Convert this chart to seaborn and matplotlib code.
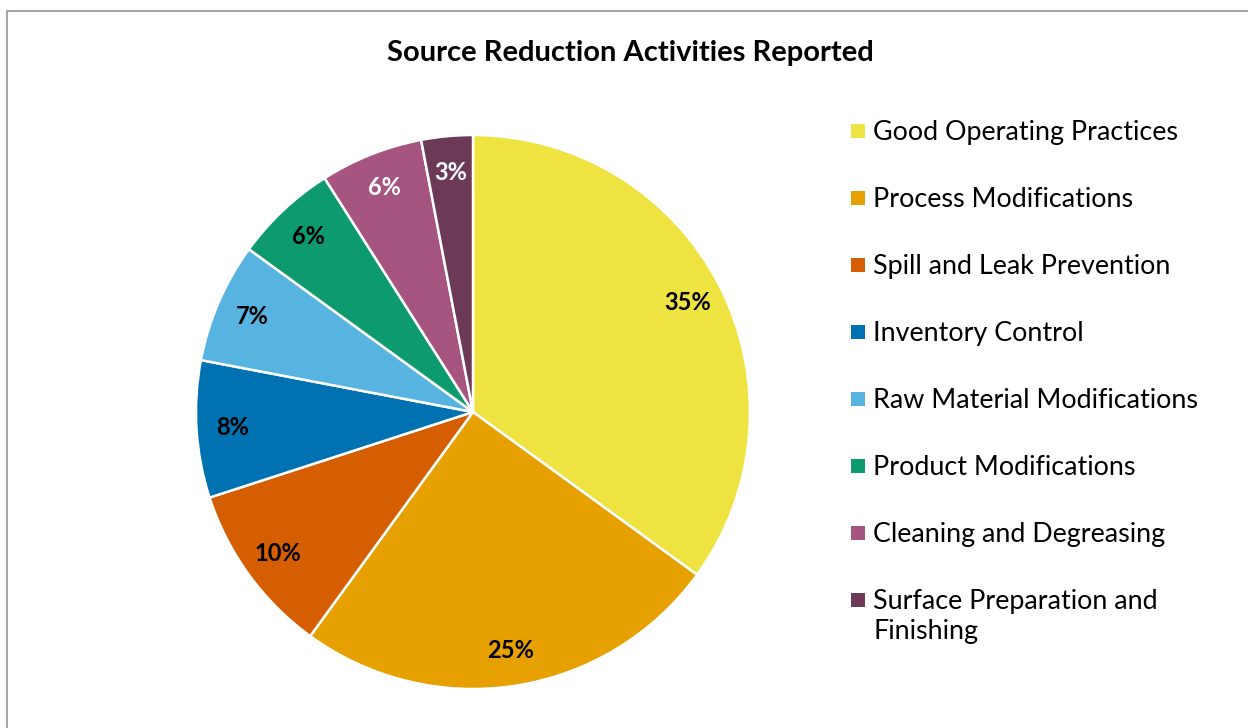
import textwrap
import matplotlib
matplotlib.use("Agg")
import matplotlib.pyplot as plt
from matplotlib.patches import Rectangle
import seaborn as sns

categories = [
    "Good Operating Practices",
    "Process Modifications",
    "Spill and Leak Prevention",
    "Inventory Control",
    "Raw Material Modifications",
    "Product Modifications",
    "Cleaning and Degreasing",
    "Surface Preparation and Finishing",
]
shares = [35, 25, 10, 8, 7, 6, 6, 3]
colors = ["#EFE342", "#E6A100", "#D55E00", "#0072B2",
          "#57B4E0", "#0E9A6F", "#A65580", "#6C3A57"]
label_colors = ["black", "black", "black", "black",
                "black", "black", "white", "white"]
title = "Source Reduction Activities Reported"

sns.set_theme(style="white")
plt.rcParams["font.family"] = ["Lato", "DejaVu Sans"]
plt.rcParams["text.color"] = "black"

W, H = 1248, 728
fig = plt.figure(figsize=(W / 100, H / 100), dpi=100)
fig.patch.set_facecolor("white")

# outer chart frame
fig.patches.append(Rectangle((7 / W, -0.05), 1.2, (H - 11) / H + 0.05,
                             transform=fig.transFigure, fill=False,
                             edgecolor="#A6A6A6", linewidth=1.5))

cx, cy, r = 473, 412, 277
ax = fig.add_axes([(cx - r) / W, (H - cy - r) / H, 2 * r / W, 2 * r / H])
wedges, _, autotexts = ax.pie(
    shares, colors=colors, startangle=90, counterclock=False,
    radius=1, autopct="%d%%", pctdistance=0.87,
    wedgeprops=dict(edgecolor="white", linewidth=1.8),
    textprops=dict(fontsize=17, fontweight="bold"),
)
for t, c in zip(autotexts, label_colors):
    t.set_color(c)
ax.set_xlim(-1, 1)
ax.set_ylim(-1, 1)
ax.set_aspect("equal")
ax.axis("off")

fig.text(630 / W, 1 - 53 / H, title, ha="center", va="center",
         fontsize=21, fontweight="bold", color="black")

# legend entries
y0, step = 131, 67
for i, (name, col) in enumerate(zip(categories, colors)):
    y = y0 + i * step
    fig.patches.append(Rectangle((851 / W, 1 - (y + 7) / H), 14 / W, 14 / H,
                                 transform=fig.transFigure,
                                 facecolor=col, edgecolor="none"))
    label = "\n".join(textwrap.wrap(name, 26))
    fig.text(873 / W, 1 - (y - 11) / H, label, ha="left", va="top",
             fontsize=19.4, linespacing=1.25, color="black")

fig.savefig("out.png", dpi=100, facecolor="white")
